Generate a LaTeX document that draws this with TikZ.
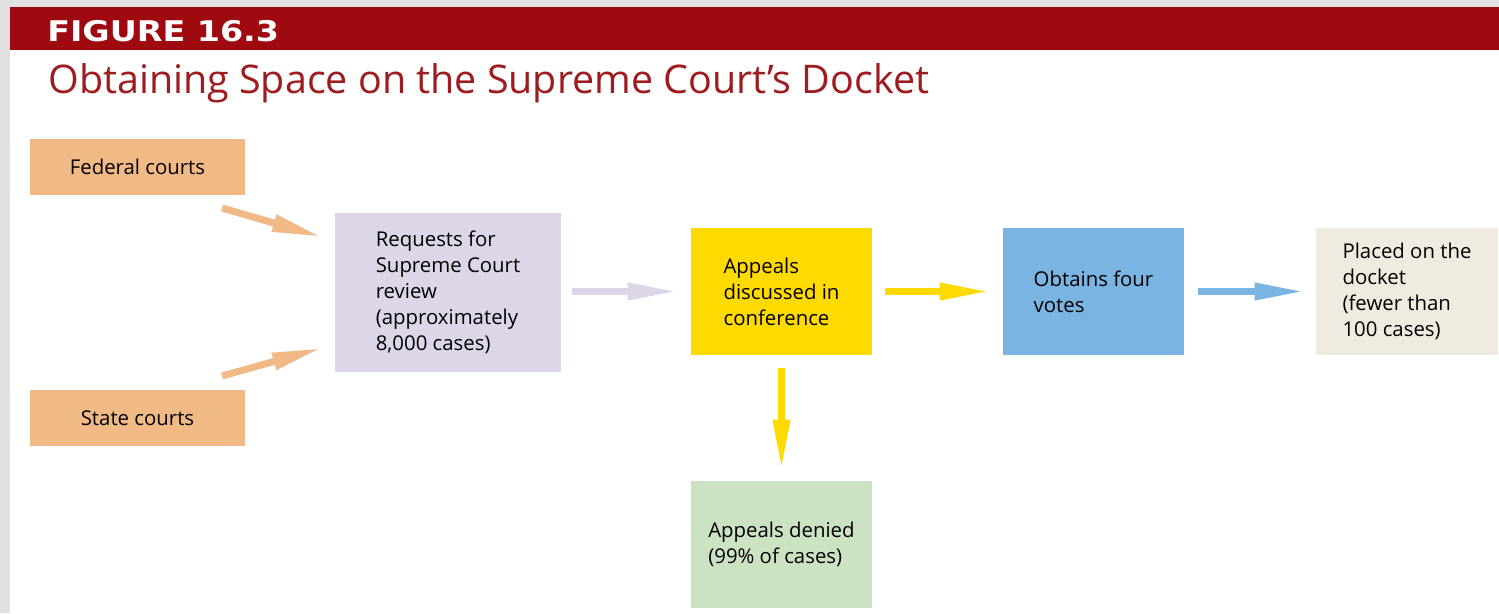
\documentclass[tikz,border=0pt]{standalone}
\usepackage{fontspec}
\setmainfont{Open Sans}
\newfontfamily\titlefont{Open Sans}
\newfontfamily\headfont{DejaVu Sans}
\usetikzlibrary{arrows.meta}
\definecolor{framegray}{HTML}{E0E0E0}
\definecolor{headred}{HTML}{9E0A10}
\definecolor{titlered}{HTML}{9E1B20}
\definecolor{courtorange}{HTML}{F0B985}
\definecolor{reqlilac}{HTML}{DDD5E8}
\definecolor{confyellow}{HTML}{FFDA00}
\definecolor{voteblue}{HTML}{7AB4E2}
\definecolor{docketbeige}{HTML}{EFEBE0}
\definecolor{deniedgreen}{HTML}{CCE3C3}
\begin{document}
\begin{tikzpicture}[x=0.02cm,y=-0.02cm,line join=round,
	box/.style={align=left,inner sep=0pt,font=\fontsize{11.6}{14.8}\selectfont},
	fat/.style={line width=0.14cm,-{Triangle[length=1cm,width=0.32cm]}}]
	\useasboundingbox (0,0) rectangle (1499,613);
	\fill[framegray] (0,0) rectangle (1499,613);
	\fill[white] (10,50) rectangle (1499,613);
	\fill[headred] (10,7) rectangle (1499,50);
	\node[anchor=base west,inner sep=0pt,text=white,font=\headfont\bfseries\fontsize{16.2}{18}\selectfont] (fig) at (47,41.5) {\scalebox{1.17}[1]{FIGURE 16.3}};
	\node[anchor=base west,inner sep=0pt,text=titlered,font=\titlefont\fontsize{22.45}{26}\selectfont] (title) at (48,93) {Obtaining Space on the Supreme Court’s Docket};

	\node[box,fill=courtorange,minimum width=4.3cm,minimum height=1.12cm] (fed) at (137.5,167) {Federal courts};
	\node[box,fill=courtorange,minimum width=4.3cm,minimum height=1.12cm] (state) at (137.5,418) {State courts};
	\node[box,fill=reqlilac,minimum width=4.52cm,minimum height=3.18cm] (req) at (448,292.5) {Requests for\\Supreme Court\\review\\(approximately\\8,000 cases)};
	\node[box,fill=confyellow,minimum width=3.62cm,minimum height=2.54cm] (conf) at (781.5,291.5) {Appeals\\discussed in\\conference};
	\node[box,fill=voteblue,minimum width=3.62cm,minimum height=2.54cm] (votes) at (1093.5,291.5) {Obtains four\\votes};
	\node[box,fill=docketbeige,minimum width=3.64cm,minimum height=2.54cm] (docket) at (1407,291.5) {Placed on the\\docket\\(fewer than\\100 cases)};
	\node[box,fill=deniedgreen,minimum width=3.62cm,minimum height=2.54cm] (denied) at (781.5,544.5) {Appeals denied\\(99\% of cases)};

	\coordinate (fedtail) at (222,208);
	\coordinate (fedtip) at (322,237);
	\coordinate (statetail) at (222,376);
	\coordinate (statetip) at (322,348);
	\draw[fat,courtorange] (fedtail) -- (fedtip);
	\draw[fat,courtorange] (statetail) -- (statetip);
	\draw[fat,reqlilac,shorten <=0.22cm,shorten >=0.26cm] (req.east |- conf.west) -- (conf.west);
	\draw[fat,confyellow,shorten <=0.26cm,shorten >=0.26cm] (conf.east) -- (votes.west);
	\draw[fat,voteblue,shorten <=0.28cm,shorten >=0.22cm] (votes.east) -- (votes.east -| docket.west);
	\draw[fat,confyellow,shorten <=0.26cm,shorten >=0.22cm] (conf.south) -- (denied.north);
\end{tikzpicture}
\end{document}
